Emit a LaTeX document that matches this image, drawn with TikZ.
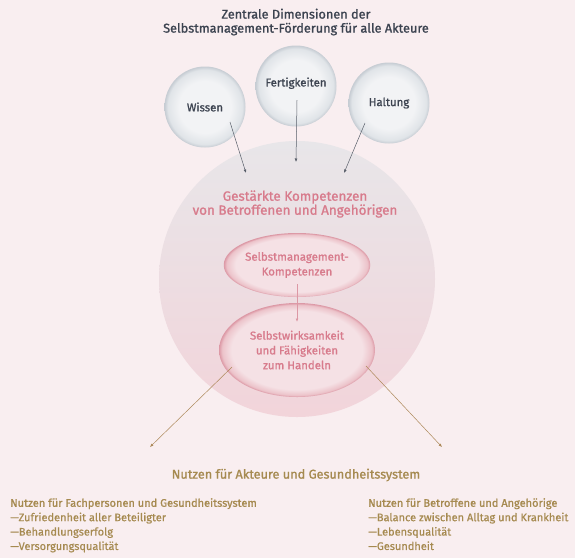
\documentclass[tikz,border=0pt]{standalone}
\usepackage{fontspec}
\setmainfont{Fira Sans}
\newfontfamily\medium{Fira Sans}[FakeBold=1.2]
\newfontfamily\book{Fira Sans}[FakeBold=0.5]
\usetikzlibrary{arrows.meta,shapes.geometric}
\definecolor{bg}{HTML}{F9EEF0}
\definecolor{ink}{HTML}{3C4350}
\definecolor{gold}{HTML}{A68A50}
\definecolor{rose}{HTML}{D87B8C}
\definecolor{bubin}{HTML}{F2F3F5}
\definecolor{bubmid}{HTML}{E0E4E8}
\definecolor{bubout}{HTML}{C6CCD3}
\definecolor{ellin}{HTML}{F5E1E5}
\definecolor{ellmid}{HTML}{ECC3CA}
\definecolor{ellout}{HTML}{DC98A5}
\definecolor{bigtop}{HTML}{E8E6E9}
\definecolor{bigbot}{HTML}{F2D4DA}
\pgfdeclareradialshading{bubble}{\pgfpoint{0bp}{0bp}}{color(0bp)=(bubin); color(16bp)=(bubin); color(23bp)=(bubmid); color(25bp)=(bubout); color(50bp)=(bubout)}
\pgfdeclareradialshading{rim}{\pgfpoint{0bp}{0bp}}{color(0bp)=(ellin); color(21bp)=(ellin); color(24bp)=(ellmid); color(25bp)=(ellout); color(50bp)=(ellout)}
\begin{document}
\begin{tikzpicture}[x=1pt, y=-1pt,
  bubble/.style={circle, shading=bubble, minimum size=81pt, inner sep=0, text=ink, font=\medium\fontsize{11.4}{12}\selectfont},
  pill/.style={ellipse, shading=rim, inner sep=0, align=center, text=rose, font=\medium\fontsize{11.4}{14.8}\selectfont},
  heading/.style={align=center, font=\medium\fontsize{12.7}{14}\selectfont},
  gain/.style={anchor=north west, inner sep=0, align=left, text=gold, font=\book\fontsize{11}{14.4}\selectfont},
  darrow/.style={-{Latex[length=3.5pt,width=2.8pt]}, line width=0.5pt, draw=ink!85},
  parrow/.style={-{Latex[length=3.5pt,width=2.8pt]}, line width=0.7pt, draw=ellout},
  garrow/.style={-{Latex[length=3.5pt,width=2.8pt]}, line width=0.5pt, draw=gold!85!rose}]
\fill[bg] (0,0) rectangle (575,558);
\useasboundingbox (0,0) rectangle (575,558);
\node [heading, text=ink] (title) at (296,22) {Zentrale Dimensionen der\\Selbstmanagement-Förderung für alle Akteure};
\node [circle, top color=bigtop, bottom color=bigbot, minimum size=276pt, inner sep=0] (staerke) at (297,279) {};
\node [bubble] (wissen) at (205,107) {Wissen};
\node [bubble] (fertig) at (296,86) {\raisebox{8pt}{Fertigkeiten}};
\node [bubble] (haltung) at (389,103) {Haltung};
\node [heading, text=rose, font=\medium\fontsize{13.4}{14}\selectfont] (kompetenz) at (295,204) {Gestärkte Kompetenzen\\von Betroffenen und Angehörigen};
\node [pill, minimum width=134pt, minimum height=64pt] (selbstm) at (297,265) {Selbstmanagement-\\Kompetenzen};
\node [pill, minimum width=156pt, minimum height=94pt] (selbstw) at (297,350) {Selbstwirksamkeit\\und Fähigkeiten\\zum Handeln};
\node [heading, text=gold] (nutzen) at (296,475) {Nutzen für Akteure und Gesundheitssystem};
\node [gain] (fach) at (10,498) {{\medium Nutzen für Fachpersonen und Gesundheitssystem}\\—Zufriedenheit aller Beteiligter\\—Behandlungserfolg\\—Versorgungsqualität};
\node [gain] (betroffen) at (368,498) {{\medium Nutzen für Betroffene und Angehörige}\\—Balance zwischen Alltag und Krankheit\\—Lebensqualität\\—Gesundheit};
\coordinate (kw) at (246,173);
\coordinate (kf) at (296,162);
\coordinate (kh) at (344,173);
\coordinate (nl) at (150,447);
\coordinate (nr) at (442,447);
\draw [darrow] ([shift={(25,15)}]wissen.center) -- (kw);
\draw [darrow] ([shift={(1,14)}]fertig.center) -- (kf);
\draw [darrow] ([shift={(-24,20)}]haltung.center) -- (kh);
\draw [parrow] ([shift={(0,19)}]selbstm.center) -- ([shift={(0,-28)}]selbstw.center);
\draw [garrow] ([shift={(-65,17)}]selbstw.center) -- (nl);
\draw [garrow] ([shift={(69,16)}]selbstw.center) -- (nr);
\end{tikzpicture}
\end{document}
